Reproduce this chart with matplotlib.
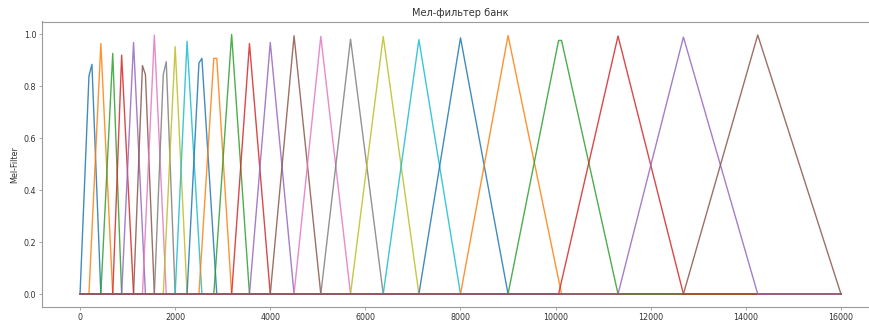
import matplotlib
matplotlib.use("Agg")
import matplotlib.pyplot as plt

# peak samples of each mel filter (Hz, value)
filter_top_freqs = [
    [187.5, 250], [437.5], [687.5], [875], [1125], [1312.5, 1375],
    [1562.5], [1750, 1812.5], [2000], [2250], [2500, 2562.5], [2812.5, 2875],
    [3187.5], [3562.5], [4000], [4500], [5062.5], [5687.5],
    [6375], [7125], [8000], [9000], [10062.5, 10125], [11312.5],
    [12687.5], [14250],
]
filter_top_values = [
    [0.84, 0.885], [0.965], [0.927], [0.92], [0.969], [0.88, 0.845],
    [0.998], [0.845, 0.895], [0.953], [0.974], [0.89, 0.908], [0.908, 0.908],
    [1.0], [0.965], [0.969], [0.995], [0.993], [0.982],
    [0.992], [0.98], [0.987], [0.996], [0.977, 0.977], [0.994],
    [0.99], [0.998],
]
# where each triangle starts and ends (Hz)
left_feet = [0, 187.5, 437.5, 687.5, 875, 1125, 1312.5, 1562.5, 1750, 2000,
             2250, 2500, 2812.5, 3187.5, 3562.5, 4000, 4500, 5062.5, 5687.5,
             6375, 7125, 8000, 9000, 10062.5, 11312.5, 12687.5]
right_feet = [437.5, 687.5, 875, 1125, 1375, 1562.5, 1812.5, 2000, 2250,
              2562.5, 2875, 3187.5, 3562.5, 4000, 4500, 5062.5, 5687.5, 6375,
              7125, 8000, 9000, 10125, 11312.5, 12687.5, 14250, 16000]
f_min, f_max = 0, 16000

plt.rcParams.update({
    "font.size": 5.8,
    "text.color": "#333333",
    "axes.labelcolor": "#333333",
    "xtick.labelcolor": "#333333",
    "ytick.labelcolor": "#333333",
    "lines.linewidth": 1.0,
    "axes.linewidth": 0.8,
    "axes.edgecolor": "#9a9a9a",
    "xtick.color": "#9a9a9a",
    "ytick.color": "#9a9a9a",
    "xtick.major.size": 2,
    "ytick.major.size": 2,
    "xtick.major.width": 0.6,
    "ytick.major.width": 0.6,
    "xtick.major.pad": 2,
    "ytick.major.pad": 2,
})

fig = plt.figure(figsize=(8.69, 3.25), dpi=100)
ax = fig.add_axes([42 / 869, 18 / 325, 837 / 869, 285.5 / 325])

for tops_f, tops_v, lf, rf in zip(filter_top_freqs, filter_top_values, left_feet, right_feet):
    xs = [f_min, lf] + tops_f + [rf, f_max]
    ys = [0, 0] + tops_v + [0, 0]
    ax.plot(xs, ys, alpha=0.85)

ax.set_title("Мел-фильтер банк", fontsize=7, pad=4)
ax.set_ylabel("Mel-Filter", labelpad=3)
ax.set_xticks(range(0, 16001, 2000))

fig.savefig("out.png", dpi=100)
plt.close(fig)
